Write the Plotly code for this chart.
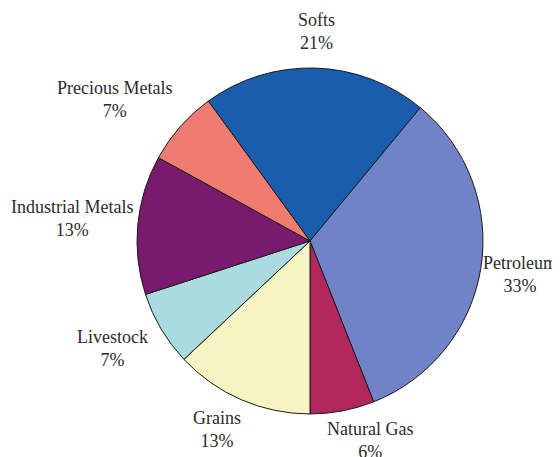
import math
import plotly.graph_objects as go

labels = ["Softs", "Petroleum", "Natural Gas", "Grains", "Livestock", "Industrial Metals", "Precious Metals"]
values = [21, 33, 6, 13, 7, 13, 7]
colors = ["#1A5DAD", "#6F83C6", "#B0285C", "#F7F4C4", "#AADCDF", "#7A1A6C", "#F07B70"]

# layout constants (not data)
W, H = 560, 457
ROTATION = -36.0
DOM_X = [0.2304, 0.8482]
DOM_Y = [0.1116, 0.8688]
label_radius = [1.214, 1.229, 1.177, 1.190, 1.226, 1.382, 1.241]
label_xshift = [0, 0, 22, -11, -15, 0, -34]

fig = go.Figure(go.Pie(
    labels=labels,
    values=values,
    sort=False,
    direction="clockwise",
    rotation=ROTATION,
    marker=dict(colors=colors, line=dict(color="#1a1a1a", width=1)),
    textinfo="none",
    domain=dict(x=DOM_X, y=DOM_Y),
    showlegend=False,
    hoverinfo="label+percent",
))

# pie geometry in paper-pixel space
cx = W * (DOM_X[0] + DOM_X[1]) / 2
cy = H * (DOM_Y[0] + DOM_Y[1]) / 2
R = W * (DOM_X[1] - DOM_X[0]) / 2

total = sum(values)
start = ROTATION
annotations = []
for lab, v, k, xs in zip(labels, values, label_radius, label_xshift):
    span = 360.0 * v / total
    mid = math.radians(start + span / 2)
    start += span
    px = cx + k * R * math.sin(mid) + xs
    py = cy + k * R * math.cos(mid)
    annotations.append(dict(
        x=px / W, y=py / H, xref="paper", yref="paper",
        text=f"{lab}<br>{round(100 * v / total)}%",
        showarrow=False, xanchor="center", yanchor="middle", align="center",
        font=dict(family="Liberation Serif, Times New Roman, serif", size=18, color="#2b2b2b"),
    ))

fig.update_layout(
    width=W, height=H,
    margin=dict(l=0, r=0, t=0, b=0),
    paper_bgcolor="white",
    plot_bgcolor="white",
    annotations=annotations,
)

fig.write_html("out.html")
